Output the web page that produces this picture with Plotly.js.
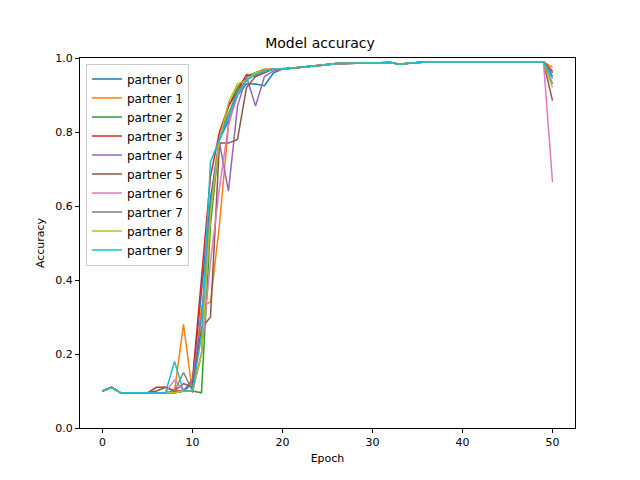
<!DOCTYPE html>
<html>
<head>
<meta charset="utf-8">
<script src="https://cdn.plot.ly/plotly-3.0.1.min.js"></script>
<style>body{margin:0}#chart{width:640px;height:480px}</style>
</head>
<body>
<div id="chart"></div>
<script>
// epochs 0..7 (mostly shared plateau)
const head = [0.10, 0.11, 0.095, 0.095, 0.095, 0.095, 0.095, 0.095];
// epochs 20..49 (all partners converge)
const tail = [0.97, 0.972, 0.975, 0.978, 0.98, 0.982, 0.985, 0.985, 0.986, 0.986,
  0.987, 0.987, 0.988, 0.983, 0.986, 0.988, 0.989, 0.989, 0.989, 0.989,
  0.989, 0.989, 0.989, 0.989, 0.989, 0.989, 0.989, 0.989, 0.989, 0.989];

// epochs 8..19
const mid = [
  [0.095, 0.10, 0.12, 0.37, 0.62, 0.78, 0.83, 0.90, 0.93, 0.93, 0.925, 0.96],
  [0.10, 0.28, 0.095, 0.33, 0.34, 0.55, 0.82, 0.92, 0.95, 0.96, 0.97, 0.97],
  [0.095, 0.10, 0.10, 0.095, 0.55, 0.78, 0.87, 0.92, 0.95, 0.96, 0.965, 0.97],
  [0.10, 0.10, 0.13, 0.40, 0.68, 0.80, 0.87, 0.91, 0.955, 0.95, 0.965, 0.97],
  [0.095, 0.10, 0.13, 0.30, 0.60, 0.77, 0.64, 0.87, 0.95, 0.87, 0.95, 0.965],
  [0.10, 0.12, 0.11, 0.27, 0.30, 0.77, 0.77, 0.78, 0.92, 0.95, 0.96, 0.97],
  [0.13, 0.10, 0.10, 0.20, 0.45, 0.65, 0.82, 0.90, 0.94, 0.955, 0.965, 0.97],
  [0.10, 0.15, 0.10, 0.20, 0.60, 0.78, 0.85, 0.91, 0.94, 0.96, 0.965, 0.97],
  [0.095, 0.10, 0.10, 0.20, 0.58, 0.78, 0.88, 0.93, 0.94, 0.96, 0.965, 0.97],
  [0.18, 0.10, 0.10, 0.25, 0.72, 0.78, 0.84, 0.90, 0.94, 0.955, 0.965, 0.97]
];
// epoch 50
const last = [0.95, 0.975, 0.96, 0.965, 0.93, 0.885, 0.665, 0.96, 0.92, 0.945];
const pre = [[], [], [], [0.11, 0.11], [], [0.10, 0.11], [], [], [], []];

const colors = ['#1f77b4', '#ff7f0e', '#2ca02c', '#d62728', '#9467bd',
  '#8c564b', '#e377c2', '#7f7f7f', '#bcbd22', '#17becf'];
const epochs = Array.from({length: 51}, (_, i) => i);

const data = mid.map((m, i) => {
  const h = head.slice();
  if (pre[i].length) { h[6] = pre[i][0]; h[7] = pre[i][1]; }
  return {
    x: epochs,
    y: h.concat(m, tail, [last[i]]),
    type: 'scatter', mode: 'lines', name: 'partner ' + i,
    line: {color: colors[i], width: 1.5}
  };
});

const axis = {
  showgrid: false, zeroline: false, showline: true, mirror: true,
  linecolor: '#000', linewidth: 1, ticks: 'outside', ticklen: 4,
  tickcolor: '#000', tickfont: {size: 11, color: '#000'}
};

Plotly.newPlot('chart', data, {
  width: 640, height: 480,
  margin: {l: 80, r: 65, t: 58, b: 52},
  paper_bgcolor: '#fff', plot_bgcolor: '#fff',
  font: {family: 'DejaVu Sans', color: '#000'},
  title: {text: 'Model accuracy', font: {size: 14}, y: 0.91, yanchor: 'middle'},
  xaxis: Object.assign({}, axis, {range: [-2.5, 52.5], tickvals: [0, 10, 20, 30, 40, 50],
    title: {text: 'Epoch', font: {size: 11}, standoff: 6}}),
  yaxis: Object.assign({}, axis, {range: [0, 1], tickvals: [0, 0.2, 0.4, 0.6, 0.8, 1],
    ticktext: ['0.0', '0.2', '0.4', '0.6', '0.8', '1.0'],
    title: {text: 'Accuracy', font: {size: 11}, standoff: 8}}),
  legend: {x: 0.012, y: 0.985, xanchor: 'left', yanchor: 'top',
    bgcolor: 'rgba(255,255,255,0.8)', bordercolor: '#ccc', borderwidth: 1,
    font: {size: 12}, tracegroupgap: 0}
}, {displayModeBar: false, staticPlot: true});
</script>
</body>
</html>
